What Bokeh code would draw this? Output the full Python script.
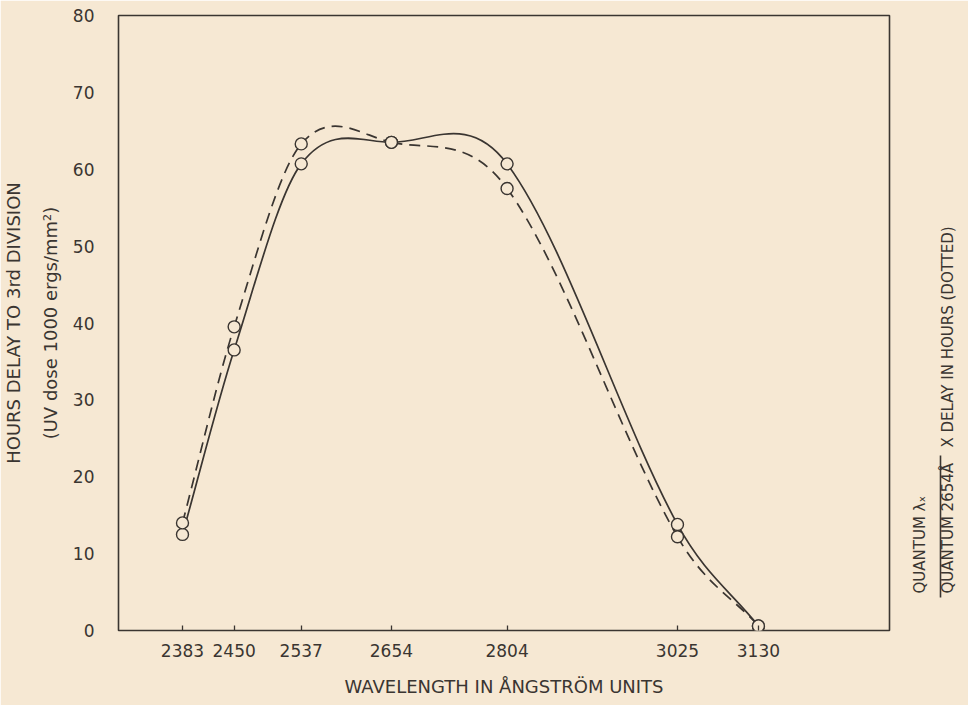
import numpy as np
from bokeh.plotting import figure
from bokeh.models import FixedTicker, ColumnDataSource, Range1d, LinearAxis
from bokeh.embed import file_html
from bokeh.resources import INLINE

# ---- data ----
wavelengths = [2383, 2450, 2537, 2654, 2804, 3025, 3130]
solid_hours = [12.5, 36.5, 60.7, 63.5, 60.7, 13.8, 0.6]      # hours delay (solid curve)
dotted_hours = [14.0, 39.5, 63.3, 63.5, 57.5, 12.2, 0.6]     # quantum-corrected delay (dotted curve)
x_tick_values = [2383, 2450, 2537, 2654, 2804, 3025, 3130]
y_tick_values = [0, 10, 20, 30, 40, 50, 60, 70, 80]

INK = "#3a3531"
PAPER = "#f6e8d3"
FONT = "DejaVu Sans"


def smooth_segments(xs, ys):
    """Bezier control points (Catmull-Rom tangents) through the measured points."""
    x = np.asarray(xs, dtype=float)
    y = np.asarray(ys, dtype=float)
    n = len(x)
    h = x[1:] - x[:-1]
    m = np.zeros(n)
    m[0] = (y[1] - y[0]) / (x[1] - x[0])
    m[-1] = (y[-1] - y[-2]) / (x[-1] - x[-2])
    for i in range(1, n - 1):
        m[i] = (y[i + 1] - y[i - 1]) / (x[i + 1] - x[i - 1])
    return ColumnDataSource(dict(
        x0=x[:-1], y0=y[:-1], x1=x[1:], y1=y[1:],
        cx0=x[:-1] + h / 3, cy0=y[:-1] + m[:-1] * h / 3,
        cx1=x[1:] - h / 3, cy1=y[1:] - m[1:] * h / 3,
    ))


p = figure(width=968, height=705, output_backend="svg", toolbar_location=None,
           x_range=Range1d(2300, 3300), y_range=Range1d(0, 80),
           min_border_left=118, min_border_right=78, min_border_top=15,
           min_border_bottom=75)

p.background_fill_color = PAPER
p.border_fill_color = PAPER
p.outline_line_color = INK
p.outline_line_width = 1.6
p.xgrid.grid_line_color = None
p.ygrid.grid_line_color = None

# x axis
p.xaxis.ticker = FixedTicker(ticks=x_tick_values)
p.xaxis.axis_line_color = None
p.xaxis.major_tick_in = 5
p.xaxis.major_tick_out = 0
p.xaxis.major_tick_line_color = INK
p.xaxis.major_tick_line_width = 1.3
p.xaxis.minor_tick_line_color = None
p.xaxis.major_label_standoff = 13
p.xaxis.major_label_text_font = FONT
p.xaxis.major_label_text_font_size = "17px"
p.xaxis.major_label_text_color = INK
p.xaxis.axis_label = "WAVELENGTH IN ÅNGSTRÖM UNITS"
p.xaxis.axis_label_text_font = FONT
p.xaxis.axis_label_text_font_size = "18px"
p.xaxis.axis_label_text_font_style = "normal"
p.xaxis.axis_label_text_color = INK
p.xaxis.axis_label_standoff = 16

# y axis
p.yaxis.ticker = FixedTicker(ticks=y_tick_values)
p.yaxis.axis_line_color = None
p.yaxis.major_tick_line_color = None
p.yaxis.minor_tick_line_color = None
p.yaxis.major_label_standoff = 18
p.yaxis.major_label_text_font = FONT
p.yaxis.major_label_text_font_size = "17px"
p.yaxis.major_label_text_color = INK
p.yaxis.axis_label = "HOURS DELAY TO 3rd DIVISION\n(UV dose 1000 ergs/mm²)"
p.yaxis.axis_label_text_font = FONT
p.yaxis.axis_label_text_font_size = "18px"
p.yaxis.axis_label_text_font_style = "normal"
p.yaxis.axis_label_text_color = INK
p.yaxis.axis_label_text_line_height = 1.75
p.yaxis.axis_label_standoff = 9

# curves
p.bezier(x0="x0", y0="y0", x1="x1", y1="y1", cx0="cx0", cy0="cy0",
         cx1="cx1", cy1="cy1", source=smooth_segments(wavelengths, solid_hours),
         line_color=INK, line_width=1.7)
p.bezier(x0="x0", y0="y0", x1="x1", y1="y1", cx0="cx0", cy0="cy0",
         cx1="cx1", cy1="cy1", source=smooth_segments(wavelengths, dotted_hours),
         line_color=INK, line_width=1.7, line_dash="11 7")

# measured points
p.scatter(wavelengths, solid_hours, size=12, marker="circle",
          fill_color=PAPER, line_color=INK, line_width=1.4)
p.scatter(wavelengths, dotted_hours, size=12, marker="circle",
          fill_color=PAPER, line_color=INK, line_width=1.4)

# ---- right-hand title: tick labels of two label-only axes on a layout range ----
# the "title" range runs in page pixels (bottom of frame = 630, top = 15)
p.extra_y_ranges = {"title": Range1d(start=630, end=15)}


def title_axis(labels, standoff, size, bounds=None, line_color=None):
    kw = dict(bounds=bounds) if bounds is not None else {}
    return LinearAxis(y_range_name="title", ticker=FixedTicker(ticks=list(labels)),
                      major_label_overrides=labels, major_label_orientation=np.pi / 2,
                      major_label_standoff=standoff, major_label_text_font=FONT,
                      major_label_text_font_size=size, major_label_text_color=INK,
                      major_tick_in=0, major_tick_out=0, major_tick_line_color=None,
                      minor_tick_in=0, minor_tick_out=0, minor_tick_line_color=None,
                      axis_line_color=line_color, axis_line_width=1.6, **kw)


# numerator
p.add_layout(title_axis({593: "QUANTUM  λₓ"}, 30, "15px"), "right")
# fraction bar (axis line), denominator and the rest of the title
p.add_layout(title_axis({593: "QUANTUM 2654Å", 447: "X DELAY IN HOURS (DOTTED)"}, 7, "15px",
                        bounds=(455, 597), line_color=INK), "right")

open("out.html", "w").write(file_html(p, INLINE))
